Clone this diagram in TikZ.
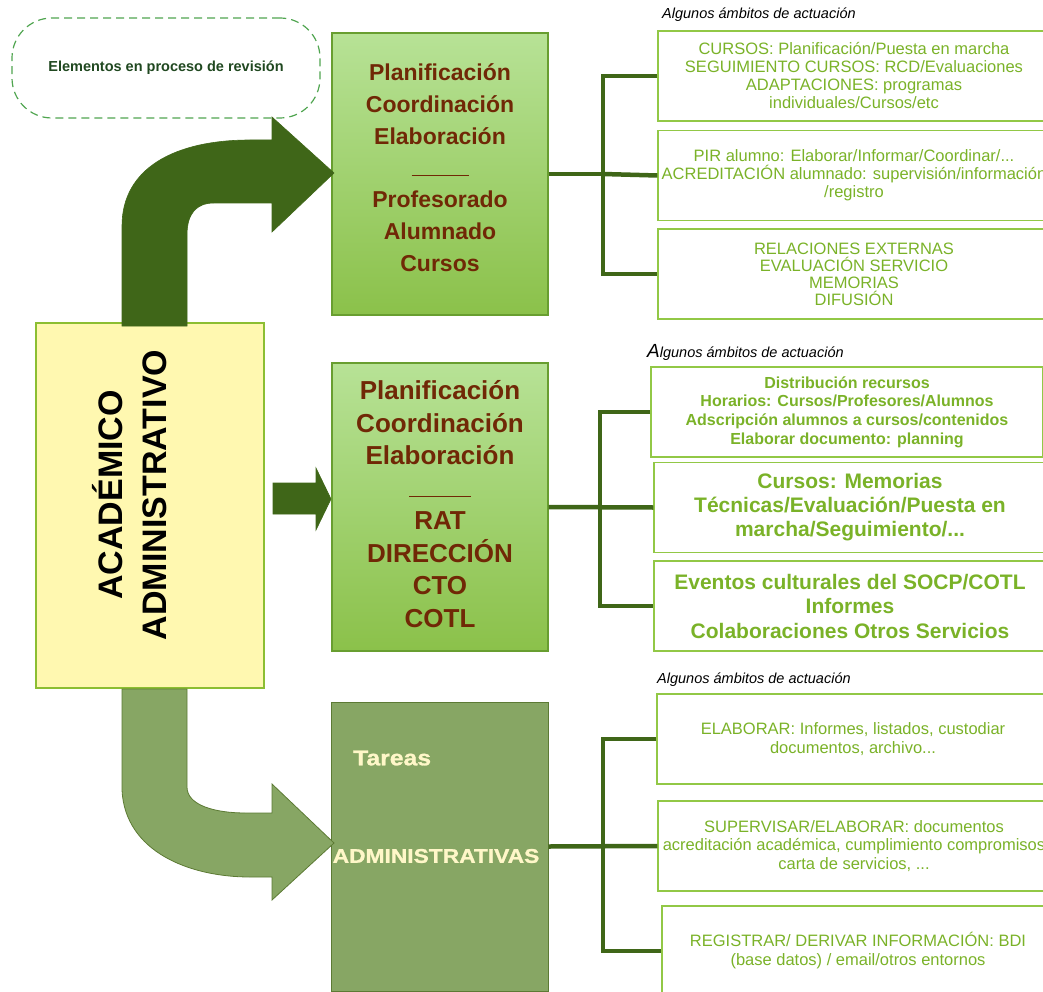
\documentclass[tikz,border=0pt]{standalone}
\usepackage{fontspec}
\setmainfont{Liberation Sans}
\newfontfamily\breitfont[FakeStretch=1.15,FakeBold=1.2]{Liberation Sans Bold}

% Farben
\definecolor{dunkelgruen}{RGB}{63,102,24}
\definecolor{hellgruen}{RGB}{183,226,150}
\definecolor{mittelgruen}{RGB}{139,193,74}
\definecolor{kastenrand}{RGB}{104,158,48}
\definecolor{braun}{RGB}{112,40,6}
\definecolor{gelb}{RGB}{255,248,176}
\definecolor{gelbrand}{RGB}{140,190,50}
\definecolor{oliv}{RGB}{135,166,100}
\definecolor{olivrand}{RGB}{92,122,52}
\definecolor{creme}{RGB}{255,247,200}
\definecolor{textgruen}{RGB}{122,178,40}
\definecolor{randgruen}{RGB}{146,200,70}
\definecolor{strichgruen}{RGB}{80,165,80}
\definecolor{titelgruen}{RGB}{32,72,32}

\tikzset{
  gbox/.style={draw=kastenrand, line width=1.3pt, top color=hellgruen, bottom color=mittelgruen,
    minimum width=216pt, inner sep=0pt},
  gtxt/.style={text=braun, align=center, inner sep=0pt},
  ybox/.style={draw=gelbrand, line width=1.2pt, fill=gelb, minimum width=228pt,
    minimum height=365pt, inner sep=0pt},
  obox/.style={draw=olivrand, line width=1pt, fill=oliv, minimum width=217pt,
    minimum height=289pt, inner sep=0pt},
  otxt/.style={text=creme, inner sep=0pt},
  rbox/.style={draw=randgruen, line width=1.3pt, minimum width=392pt, minimum height=90pt,
    inner sep=0pt, align=center, text=textgruen},
  ueber/.style={anchor=west, inner sep=0pt, font=\itshape\fontsize{14.5}{16}\selectfont},
  brack/.style={draw=dunkelgruen, line width=4.5pt},
  pfeil/.style={fill=dunkelgruen, draw=dunkelgruen, line width=0.6pt},
  dashbox/.style={draw=strichgruen, dashed, dash pattern=on 8pt off 5pt, line width=1.2pt,
    rounded corners=40pt, minimum width=308pt, minimum height=100pt, text=titelgruen,
    font=\bfseries\fontsize{14.5}{16}\selectfont}
}

\begin{document}
\begin{tikzpicture}[x=1pt, y=-1pt]
\useasboundingbox (0,0) rectangle (1043,992);
\clip (0,0) rectangle (1043,992);

% Hinweis oben links
\node (revision) [dashbox] at (166,68) {Elementos en proceso de revisi\'on};

% gelber Kasten links
\node (yel) [ybox] at (150,505.5) {};
\node (yeltxt) [rotate=90, align=center, inner sep=0pt, font=\bfseries\fontsize{34}{44}\selectfont]
  at ([xshift=-20pt,yshift=10.5pt]yel.center) {ACAD\'EMICO\\ADMINISTRATIVO};

% gruene Kaesten in der Mitte
\node (ptop) [gbox, minimum height=282pt] at (440,174) {};
\node (ptoptxt) [gtxt, font=\bfseries\fontsize{23}{31.8}\selectfont] at ([yshift=6.5pt]ptop.center)
  {Planificaci\'on\\Coordinaci\'on\\Elaboraci\'on\\\rule{57pt}{1.2pt}\\Profesorado\\Alumnado\\Cursos};

\node (pmid) [gbox, minimum height=288pt] at (440,507) {};
\node (pmidtxt) [gtxt, font=\bfseries\fontsize{26}{32.5}\selectfont] at ([yshift=3pt]pmid.center)
  {Planificaci\'on\\Coordinaci\'on\\Elaboraci\'on\\\rule{62pt}{1.4pt}\\RAT\\DIRECCI\'ON\\CTO\\COTL};

\node (padm) [obox] at (439.5,846.5) {};
\node (tareas) [otxt, anchor=west, font=\breitfont\fontsize{21.5}{23}\selectfont] at (353,758) {Tareas};
\node (admtxt) [otxt, font=\breitfont\fontsize{19.8}{21}\selectfont] at (436,856) {ADMINISTRATIVAS};

% Pfeile
\filldraw[pfeil] (122,326) -- (122,226) .. controls (122,168) and (175,140) .. (250,140)
  -- (272,140) -- (272,117) -- (334,173) -- (272,232) -- (272,203) -- (214,203)
  .. controls (196,203) and (187,214) .. (187,235) -- (187,326) -- cycle;
\filldraw[pfeil] (273,483) -- (316,483) -- (316,468) -- (331,499) -- (316,530) -- (316,514)
  -- (273,514) -- cycle;
\filldraw[fill=oliv, draw=olivrand, line width=0.8pt] (122,689) -- (122,790)
  .. controls (125,852) and (190,877) .. (250,877) -- (272,877) -- (272,900) -- (334,843)
  -- (272,784) -- (272,813) -- (246,813) .. controls (214,813) and (187,805) .. (187,787)
  -- (187,689) -- cycle;

% Ueberschriften rechts
\node (h1) [ueber] at (662,15) {Algunos \'ambitos de actuaci\'on};
\node (h2) [ueber] at (647,352) {{\fontsize{19}{19}\selectfont A}lgunos \'ambitos de actuaci\'on};
\node (h3) [ueber] at (657,680) {Algunos \'ambitos de actuaci\'on};

% Kaesten rechts, oben
\node (r11) [rbox, font=\fontsize{16.5}{18}\selectfont] at (854,76)
  {CURSOS: Planificaci\'on/Puesta en marcha\\SEGUIMIENTO CURSOS: RCD/Evaluaciones\\ADAPTACIONES: programas\\individuales/Cursos/etc};
\node (r12) [rbox, font=\fontsize{16.5}{18}\selectfont] at (854,175.5)
  {PIR alumno: Elaborar/Informar/Coordinar/...\\ACREDITACI\'ON alumnado: supervisi\'on/informaci\'on\\/registro};
\node (r13) [rbox, font=\fontsize{16.5}{17}\selectfont] at (854,274)
  {RELACIONES EXTERNAS\\EVALUACI\'ON SERVICIO\\MEMORIAS\\DIFUSI\'ON};

% Kaesten rechts, Mitte
\node (r21) [rbox, font=\bfseries\fontsize{16}{18.7}\selectfont] at (847,412)
  {Distribuci\'on recursos\\Horarios: Cursos/Profesores/Alumnos\\Adscripci\'on alumnos a cursos/contenidos\\Elaborar documento: planning};
\node (r22) [rbox, font=\bfseries\fontsize{21}{24}\selectfont] at (850,507.5)
  {Cursos: Memorias\\T\'ecnicas/Evaluaci\'on/Puesta en\\marcha/Seguimiento/...};
\node (r23) [rbox, font=\bfseries\fontsize{21}{24.5}\selectfont] at (850,606)
  {Eventos culturales del SOCP/COTL\\Informes\\Colaboraciones Otros Servicios};

% Kaesten rechts, unten
\node (r31) [rbox, font=\fontsize{16.5}{18.5}\selectfont] at (853,739)
  {ELABORAR: Informes, listados, custodiar\\documentos, archivo...};
\node (r32) [rbox, font=\fontsize{16.5}{18.5}\selectfont] at (854,846)
  {SUPERVISAR/ELABORAR: documentos\\acreditaci\'on acad\'emica, cumplimiento compromisos\\carta de servicios, ...};
\node (r33) [rbox, font=\fontsize{16.5}{19}\selectfont] at (858,951)
  {REGISTRAR/ DERIVAR INFORMACI\'ON: BDI\\(base datos) / email/otros entornos};

% Klammern
\coordinate (sp1) at (603,0);
\coordinate (sp2) at (600,0);
\coordinate (sp3) at (603,0);
\draw[brack] (ptop.east) -- (ptop.east -| sp1);
\draw[brack] (ptop.east -| sp1) -- (r12.west);
\draw[brack] (r11.west) -- (r11.west -| sp1) |- (r13.west);
\draw[brack] (pmid.east) -- (r22.west);
\draw[brack] (r21.west) -- (r21.west -| sp2) |- (r23.west);
\draw[brack] (padm.east) -- (r32.west);
\draw[brack] (r31.west) -- (r31.west -| sp3) |- (r33.west);

\end{tikzpicture}
\end{document}
